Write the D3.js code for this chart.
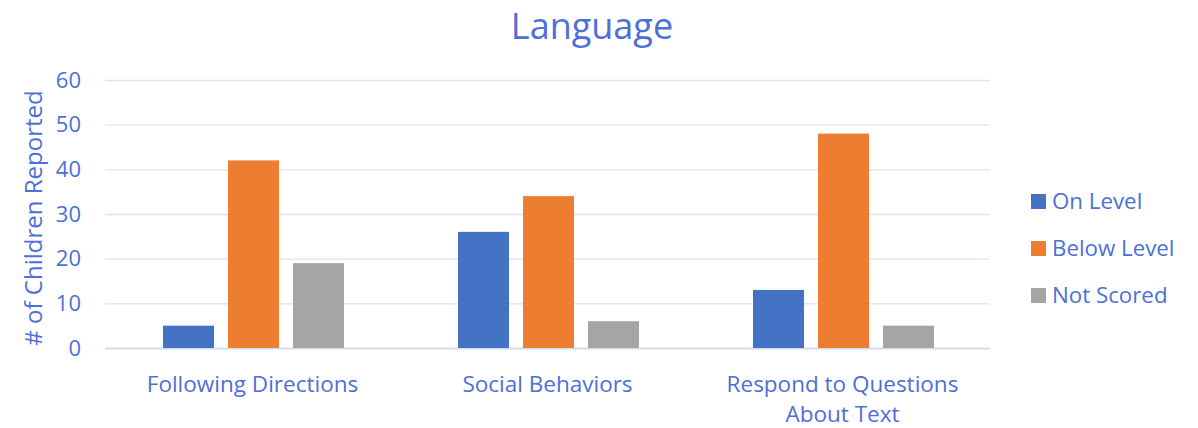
<!DOCTYPE html>
<html><head><meta charset="utf-8">
<script src="https://cdn.jsdelivr.net/npm/d3@7"></script>
<style>body{margin:0;background:#fff;}text{font-family:"Open Sans","Noto Sans",sans-serif;fill:#4d6fd8;}</style>
</head><body><svg id="c" width="1198" height="428"></svg>
<script>
const categories = [["Following Directions"],["Social Behaviors"],["Respond to Questions","About Text"]];
const seriesNames = ["On Level","Below Level","Not Scored"];
const seriesColors = ["#4472c4","#ed7d31","#a5a5a5"];
const onLevel = [5,26,13];
const belowLevel = [42,34,48];
const notScored = [19,6,5];
const yTicks = [0,10,20,30,40,50,60];
const title = "Language";
const yLabel = "# of Children Reported";

const values = [onLevel, belowLevel, notScored];
const svg = d3.select("#c");
const L=105, R=990, T=80, B=348;
const x0 = d3.scaleBand().domain(d3.range(categories.length)).range([L,R]);
const x1 = d3.scaleBand().domain(d3.range(seriesNames.length)).range([0,x0.bandwidth()]).paddingInner(0.215).paddingOuter(0.877);
const y = d3.scaleLinear().domain([0,60]).range([B,T]);

svg.append("g").selectAll("line").data(yTicks).join("line")
 .attr("x1",L).attr("x2",R).attr("y1",d=>y(d)+0.5).attr("y2",d=>y(d)+0.5)
 .attr("stroke",d=>d===0?"#d4dbf0":"#dde3f3").attr("stroke-width",d=>d===0?2:1.3);

const yAxis = svg.append("g").attr("transform",`translate(${L},0)`)
 .call(d3.axisLeft(y).tickValues(yTicks).tickSize(0).tickPadding(24));
yAxis.select(".domain").remove();
yAxis.selectAll("text").attr("font-size",22).style("fill","#4d6fd8").attr("font-family","Open Sans");

categories.forEach((c,i)=>{
  seriesNames.forEach((s,j)=>{
    svg.append("rect").attr("x",x0(i)+x1(j)+1).attr("width",x1.bandwidth())
      .attr("y",y(values[j][i])).attr("height",y(0)-y(values[j][i])).attr("fill",seriesColors[j]);
  });
  const t = svg.append("text").attr("text-anchor","middle").attr("font-size",22.5)
    .attr("x",x0(i)+x0.bandwidth()/2).attr("y",392);
  c.forEach((line,k)=>t.append("tspan").attr("x",x0(i)+x0.bandwidth()/2).attr("dy",k?30:0).text(line));
});

svg.append("text").attr("x",592).attr("y",39).attr("text-anchor","middle").attr("font-size",36).text(title);
svg.append("text").attr("transform","translate(42,218) rotate(-90)").attr("text-anchor","middle").attr("font-size",24).text(yLabel);

seriesNames.forEach((s,j)=>{
  const cy = 201+j*47;
  svg.append("rect").attr("x",1031).attr("y",cy-7).attr("width",15).attr("height",15).attr("fill",seriesColors[j]);
  svg.append("text").attr("x",1052).attr("y",cy+8).attr("font-size",22.3).text(s);
});
</script></body></html>
